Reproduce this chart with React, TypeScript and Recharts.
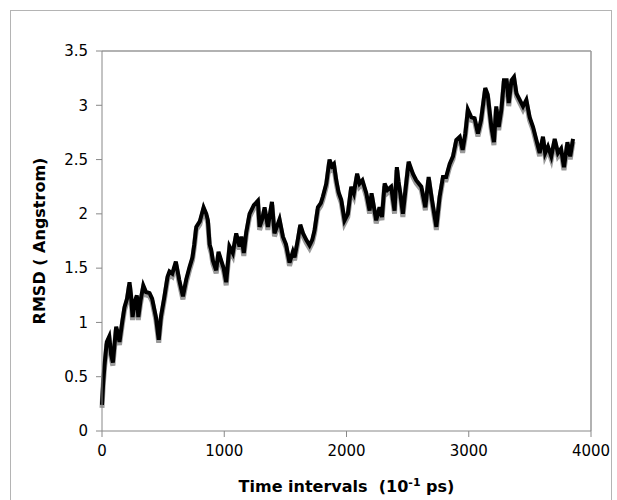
import { LineChart, Line, XAxis, YAxis, ReferenceLine } from 'recharts';

// time step (x 10^-1 ps)
const timeSteps = [
  0, 10, 20, 39, 59, 75, 89, 116, 130, 143, 165, 184, 205, 225, 237, 250, 270, 285, 297, 315,
  338, 360, 389, 410, 441, 464, 482, 511, 536, 552, 575, 604, 632, 662, 690, 716, 740, 755, 771, 800,
  831, 853, 866, 880, 893, 907, 934, 953, 975, 995, 1016, 1030, 1043, 1070, 1098, 1125, 1140, 1160, 1180, 1207,
  1242, 1275, 1289, 1310, 1330, 1357, 1390, 1411, 1452, 1480, 1505, 1534, 1561, 1575, 1600, 1622, 1645, 1671, 1698, 1720,
  1739, 1766, 1790, 1807, 1835, 1861, 1880, 1897, 1916, 1935, 1957, 1984, 2011, 2039, 2060, 2087, 2107, 2130, 2162, 2189,
  2205, 2243, 2270, 2290, 2312, 2335, 2365, 2393, 2412, 2425, 2440, 2461, 2485, 2508, 2543, 2570, 2612, 2645, 2672, 2699,
  2735, 2762, 2789, 2815, 2844, 2871, 2898, 2926, 2950, 2972, 2993, 3021, 3048, 3075, 3100, 3135, 3155, 3185, 3206, 3225,
  3245, 3267, 3288, 3310, 3327, 3350, 3370, 3390, 3417, 3444, 3471, 3498, 3526, 3553, 3580, 3607, 3625, 3648, 3675, 3703,
  3730, 3755, 3779, 3807, 3830, 3853
];

// RMSD in angstrom
const rmsdValues = [
  0.24, 0.45, 0.6, 0.82, 0.87, 0.7, 0.63, 0.96, 0.9, 0.82, 1.0, 1.14, 1.22, 1.37, 1.25, 1.05, 1.2, 1.25, 1.05, 1.2,
  1.34, 1.28, 1.27, 1.22, 1.05, 0.84, 1.05, 1.24, 1.42, 1.47, 1.45, 1.56, 1.39, 1.24, 1.4, 1.51, 1.6, 1.72, 1.88, 1.93,
  2.06, 2.0, 1.94, 1.72, 1.67, 1.57, 1.48, 1.65, 1.57, 1.5, 1.37, 1.55, 1.7, 1.64, 1.82, 1.7, 1.79, 1.64, 1.83, 2.0,
  2.08, 2.12, 1.88, 1.95, 2.06, 1.88, 2.11, 1.82, 1.95, 1.79, 1.72, 1.55, 1.65, 1.6, 1.75, 1.9, 1.82, 1.76, 1.71, 1.76,
  1.85, 2.06, 2.1, 2.16, 2.28, 2.5, 2.44, 2.46, 2.31, 2.2, 2.13, 1.94, 2.0, 2.25, 2.19, 2.37, 2.28, 2.31, 2.19, 2.03,
  2.19, 1.94, 2.06, 1.97, 2.28, 2.22, 2.25, 2.03, 2.43, 2.3, 2.19, 2.0, 2.25, 2.48, 2.37, 2.31, 2.25, 2.06, 2.34, 2.13,
  1.88, 2.16, 2.34, 2.34, 2.46, 2.53, 2.68, 2.71, 2.59, 2.74, 2.96, 2.89, 2.88, 2.74, 2.86, 3.16, 3.1, 2.8, 2.66, 2.99,
  2.8, 2.96, 3.23, 3.23, 3.02, 3.23, 3.26, 3.11, 3.05, 2.99, 3.05, 2.89, 2.8, 2.68, 2.56, 2.71, 2.56, 2.62, 2.53, 2.69,
  2.56, 2.6, 2.43, 2.66, 2.53, 2.69
];

const xTicks = [0, 1000, 2000, 3000, 4000];
const yTicks = [0, 0.5, 1, 1.5, 2, 2.5, 3, 3.5];

const data = timeSteps.map((t, i) => ({ t, rmsd: rmsdValues[i] }));

const font = 'Verdana, "DejaVu Sans", sans-serif';
const tickStyle = { fill: '#000', fontSize: 15, fontFamily: font };

export default function App() {
  return (
    <div style={{ position: 'fixed', left: 0, top: 0, width: 617, height: 500, background: '#fff' }}>
      <div
        style={{
          position: 'absolute',
          left: 10,
          top: 10,
          width: 602,
          height: 500,
          border: '1px solid #b4b4b4',
          boxSizing: 'border-box'
        }}
      />
      <LineChart
        width={617}
        height={500}
        data={data}
        margin={{ top: 51, right: 26, left: 0, bottom: 0 }}
        style={{ position: 'absolute', left: 0, top: 0 }}
      >
        <XAxis
          dataKey="t"
          type="number"
          domain={[0, 4000]}
          ticks={xTicks}
          height={69}
          stroke="#888"
          tick={tickStyle}
          tickSize={6}
          tickMargin={8}
          label={({ viewBox }: any) => (
            <text
              x={viewBox.x + viewBox.width / 2}
              y={492}
              textAnchor="middle"
              fontFamily={font}
              fontWeight="bold"
              fontSize={16}
              fill="#000"
            >
              {'Time intervals\u00a0\u00a0(10'}
              <tspan dy={-6} fontSize={11}>-1</tspan>
              <tspan dy={6}>{'\u00a0ps)'}</tspan>
            </text>
          )}
        />
        <YAxis
          type="number"
          domain={[0, 3.5]}
          ticks={yTicks}
          width={102}
          stroke="#888"
          tick={tickStyle}
          tickSize={6}
          tickMargin={8}
          label={{
            value: 'RMSD ( Angstrom)',
            angle: -90,
            position: 'insideLeft',
            dx: 34,
            style: { textAnchor: 'middle', fontFamily: font, fontWeight: 'bold', fontSize: 16, fill: '#000' }
          }}
        />
        <ReferenceLine y={3.5} stroke="#999" strokeWidth={1.5} />
        <ReferenceLine x={4000} stroke="#999" strokeWidth={1.5} />
        <Line
          dataKey="rmsd"
          stroke="#9a9a9a"
          strokeWidth={5}
          dot={false}
          isAnimationActive={false}
          style={{ transform: 'translateY(3px)' }}
        />
        <Line
          dataKey="rmsd"
          stroke="#000"
          strokeWidth={4}
          dot={false}
          isAnimationActive={false}
        />
      </LineChart>
    </div>
  );
}
